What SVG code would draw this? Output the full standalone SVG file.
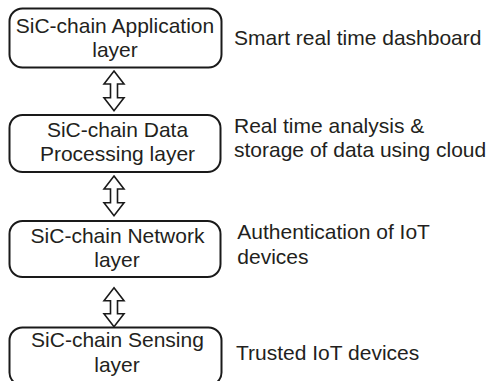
<svg xmlns="http://www.w3.org/2000/svg" width="491" height="381" viewBox="0 0 491 381">
<style>
.box{fill:#fff;stroke:#1a1a1a;stroke-width:2}
.t{font-family:"Liberation Sans",Arial,sans-serif;font-size:21px;fill:#231f20}
.c{text-anchor:middle}
.arr{fill:#fff;stroke:#1a1a1a;stroke-width:1.6;stroke-linejoin:miter}
</style>
<rect width="491" height="381" fill="#fff"/>
<g id="connectors">
<path class="arr" d="M114,71 L124,84 L117.5,84 L117.5,97.7 L124,97.7 L114,110.7 L104,97.7 L110.5,97.7 L110.5,84 L104,84 Z"/>
<path class="arr" d="M114,176 L124,189 L117.5,189 L117.5,202.7 L124,202.7 L114,215.7 L104,202.7 L110.5,202.7 L110.5,189 L104,189 Z"/>
<path class="arr" d="M114,287.7 L124,300.7 L117.5,300.7 L117.5,313.7 L124,313.7 L114,326.7 L104,313.7 L110.5,313.7 L110.5,300.7 L104,300.7 Z"/>
</g>
<g id="app">
<rect class="box" x="9.5" y="8.5" width="212" height="59" rx="13"/>
<text class="t c" x="115" y="33.3">SiC-chain Application</text>
<text class="t c" x="115" y="57">layer</text>
</g>
<g id="app-label"><text class="t" x="234" y="45">Smart real time dashboard</text></g>
<g id="data">
<rect class="box" x="9.5" y="115" width="211" height="57" rx="13"/>
<text class="t c" x="117.5" y="136.7">SiC-chain Data</text>
<text class="t c" x="117.5" y="161">Processing layer</text>
</g>
<g id="data-label">
<text class="t" x="234" y="133.3">Real time analysis &amp;</text>
<text class="t" x="234" y="156.7">storage of data using cloud</text>
</g>
<g id="network">
<rect class="box" x="9.5" y="221" width="211" height="56" rx="13"/>
<text class="t c" x="117.5" y="243.3">SiC-chain Network</text>
<text class="t c" x="117" y="267.3">layer</text>
</g>
<g id="network-label">
<text class="t" x="237.3" y="239.3">Authentication of IoT</text>
<text class="t" x="237.3" y="264">devices</text>
</g>
<g id="sensing">
<rect class="box" x="9.5" y="327.5" width="212" height="58" rx="13"/>
<text class="t c" x="117.5" y="347.3">SiC-chain Sensing</text>
<text class="t c" x="117" y="371.7">layer</text>
</g>
<g id="sensing-label"><text class="t" x="236" y="360">Trusted IoT devices</text></g>
</svg>
